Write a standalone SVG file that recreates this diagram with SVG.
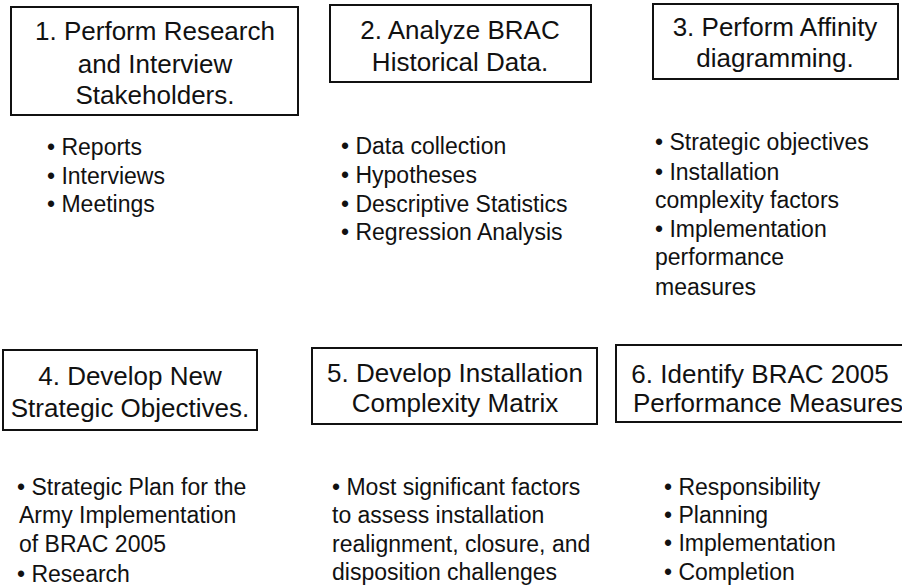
<svg xmlns="http://www.w3.org/2000/svg" width="902" height="586" viewBox="0 0 902 586">
<style>
.box{fill:#fff;stroke:#111;stroke-width:2}
.t{font-family:"Liberation Sans",Arial,sans-serif;font-size:26px;fill:#111;text-anchor:middle}
.b{font-family:"Liberation Sans",Arial,sans-serif;font-size:23px;fill:#111}
</style>
<rect width="902" height="586" fill="#fff"/>
<g id="connectors"></g>
<g id="node1">
<rect class="box" x="11" y="7" width="287" height="108"/>
<text class="t" x="155" y="40">1. Perform Research</text>
<text class="t" x="155" y="73">and Interview</text>
<text class="t" x="155" y="104">Stakeholders.</text>
<text class="b" x="47" y="155">• Reports</text>
<text class="b" x="47" y="184">• Interviews</text>
<text class="b" x="47" y="212">• Meetings</text>
</g>
<g id="node2">
<rect class="box" x="330" y="5" width="261" height="77"/>
<text class="t" x="460" y="39">2. Analyze BRAC</text>
<text class="t" x="460" y="71">Historical Data.</text>
<text class="b" x="341" y="154">• Data collection</text>
<text class="b" x="341" y="183">• Hypotheses</text>
<text class="b" x="341" y="212">• Descriptive Statistics</text>
<text class="b" x="341" y="240">• Regression Analysis</text>
</g>
<g id="node3">
<rect class="box" x="653" y="4" width="245" height="75"/>
<text class="t" x="775" y="36">3. Perform Affinity</text>
<text class="t" x="775" y="67">diagramming.</text>
<text class="b" x="655" y="150">• Strategic objectives</text>
<text class="b" x="655" y="180">• Installation</text>
<text class="b" x="655" y="208">complexity factors</text>
<text class="b" x="655" y="237">• Implementation</text>
<text class="b" x="655" y="265">performance</text>
<text class="b" x="655" y="295">measures</text>
</g>
<g id="node4">
<rect class="box" x="3" y="350" width="254" height="80"/>
<text class="t" x="130" y="385">4. Develop New</text>
<text class="t" x="130" y="417">Strategic Objectives.</text>
<text class="b" x="17" y="495">• Strategic Plan for the</text>
<text class="b" x="19" y="523">Army Implementation</text>
<text class="b" x="19" y="552">of BRAC 2005</text>
<text class="b" x="17" y="582">• Research</text>
</g>
<g id="node5">
<rect class="box" x="312" y="348" width="285" height="76"/>
<text class="t" x="455" y="382">5. Develop Installation</text>
<text class="t" x="455" y="412">Complexity Matrix</text>
<text class="b" x="332" y="495">• Most significant factors</text>
<text class="b" x="332" y="523">to assess installation</text>
<text class="b" x="332" y="552">realignment, closure, and</text>
<text class="b" x="332" y="580">disposition challenges</text>
</g>
<g id="node6">
<rect class="box" x="616" y="345" width="292" height="77"/>
<text class="t" x="760" y="383">6. Identify BRAC 2005</text>
<text class="t" x="768" y="412">Performance Measures</text>
<text class="b" x="664" y="495">• Responsibility</text>
<text class="b" x="664" y="523">• Planning</text>
<text class="b" x="664" y="551">• Implementation</text>
<text class="b" x="664" y="580">• Completion</text>
</g>
</svg>
